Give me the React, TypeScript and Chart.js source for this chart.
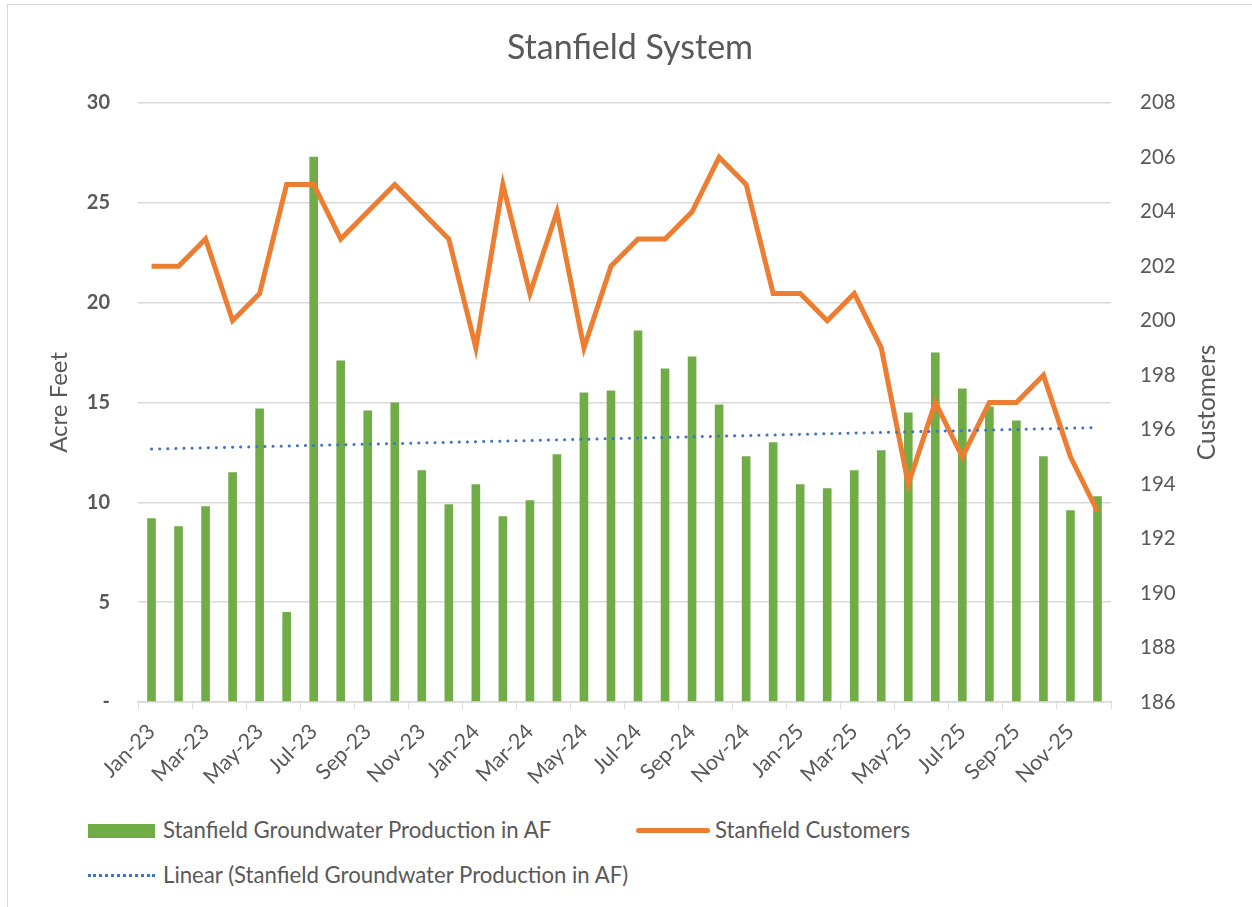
import React, { useEffect, useRef } from "react";
import { Chart, registerables } from "chart.js";

Chart.register(...registerables);

const months: string[] = [
  "Jan-23", "Feb-23", "Mar-23", "Apr-23", "May-23", "Jun-23", "Jul-23", "Aug-23", "Sep-23", "Oct-23", "Nov-23", "Dec-23",
  "Jan-24", "Feb-24", "Mar-24", "Apr-24", "May-24", "Jun-24", "Jul-24", "Aug-24", "Sep-24", "Oct-24", "Nov-24", "Dec-24",
  "Jan-25", "Feb-25", "Mar-25", "Apr-25", "May-25", "Jun-25", "Jul-25", "Aug-25", "Sep-25", "Oct-25", "Nov-25", "Dec-25",
];

const production: number[] = [
  9.2, 8.8, 9.8, 11.5, 14.7, 4.5, 27.3, 17.1, 14.6, 15.0, 11.6, 9.9,
  10.9, 9.3, 10.1, 12.4, 15.5, 15.6, 18.6, 16.7, 17.3, 14.9, 12.3, 13.0,
  10.9, 10.7, 11.6, 12.6, 14.5, 17.5, 15.7, 14.8, 14.1, 12.3, 9.6, 10.3,
];

const customers: number[] = [
  202, 202, 203, 200, 201, 205, 205, 203, 204, 205, 204, 203,
  199, 205, 201, 204, 199, 202, 203, 203, 204, 206, 205, 201,
  201, 200, 201, 199, 194, 197, 195, 197, 197, 198, 195, 193,
];

const leftTicks: number[] = [0, 5, 10, 15, 20, 25, 30];
const rightTicks: number[] = [186, 188, 190, 192, 194, 196, 198, 200, 202, 204, 206, 208];

const TITLE = "Stanfield System";
const BAR_LABEL = "Stanfield Groundwater Production in AF";
const LINE_LABEL = "Stanfield Customers";
const TREND_LABEL = "Linear (Stanfield Groundwater Production in AF)";
const LEFT_TITLE = "Acre Feet";
const RIGHT_TITLE = "Customers";

// Least-squares linear trend of the production series (as Excel's "Linear" trendline)
function linearTrend(values: number[]): number[] {
  const n = values.length;
  const xs = values.map((_, i) => i + 1);
  const mx = xs.reduce((a, b) => a + b, 0) / n;
  const my = values.reduce((a, b) => a + b, 0) / n;
  let sxy = 0;
  let sxx = 0;
  for (let i = 0; i < n; i++) {
    sxy += (xs[i] - mx) * (values[i] - my);
    sxx += (xs[i] - mx) * (xs[i] - mx);
  }
  const slope = sxy / sxx;
  const icpt = my - slope * mx;
  return xs.map((x) => icpt + slope * x);
}

const FONT = "Lato, 'Open Sans', sans-serif";
const TEXT = "#595959";
const GRID = "#d9d9d9";
const GREEN = "#70ad47";
const ORANGE = "#ed7d31";
const BLUE = "#4472c4";

export default function App() {
  const canvasRef = useRef<HTMLCanvasElement | null>(null);

  useEffect(() => {
    if (!canvasRef.current) return;
    const trend = linearTrend(production);

    const rightTitlePlugin = {
      id: "rightTitle",
      afterDraw(chart: any) {
        const s = chart.scales.y1;
        const area = chart.chartArea;
        const ctx = chart.ctx;
        ctx.save();
        ctx.fillStyle = TEXT;
        ctx.font = `24.5px ${FONT}`;
        ctx.textAlign = "center";
        ctx.textBaseline = "middle";
        ctx.translate(s.right - 45, (area.top + area.bottom) / 2);
        ctx.rotate(-Math.PI / 2);
        ctx.fillText(RIGHT_TITLE, 0, 0);
        ctx.restore();
      },
    };

    const chart = new Chart(canvasRef.current, {
      type: "bar",
      data: {
        labels: months,
        datasets: [
          {
            type: "line",
            label: TREND_LABEL,
            data: trend,
            yAxisID: "y",
            borderColor: BLUE,
            borderWidth: 3,
            borderDash: [0.1, 8],
            borderCapStyle: "round",
            pointRadius: 0,
            fill: false,
            order: 0,
          } as any,
          {
            type: "line",
            label: LINE_LABEL,
            data: customers,
            yAxisID: "y1",
            borderColor: ORANGE,
            borderWidth: 5,
            pointRadius: 0,
            tension: 0,
            fill: false,
            order: 1,
          } as any,
          {
            type: "bar",
            label: BAR_LABEL,
            data: production,
            yAxisID: "y",
            backgroundColor: GREEN,
            barPercentage: 0.32,
            categoryPercentage: 1,
            order: 2,
          } as any,
        ],
      },
      options: {
        responsive: false,
        animation: false,
        maintainAspectRatio: false,
        layout: { padding: 0 },
        plugins: {
          legend: { display: false },
          tooltip: { enabled: false },
          title: {
            display: true,
            text: TITLE,
            color: TEXT,
            font: { family: FONT, size: 34, weight: "normal" },
            padding: { top: 23, bottom: 34 },
          },
        },
        scales: {
          x: {
            offset: true,
            grid: {
              offset: true,
              drawOnChartArea: false,
              drawTicks: true,
              tickLength: 7,
              color: (c: any) => (c.index === undefined || c.index % 2 === 0 ? GRID : "rgba(0,0,0,0)"),
            },
            border: { display: true, color: GRID, width: 1.5 },
            ticks: {
              autoSkip: false,
              maxRotation: 45,
              minRotation: 45,
              padding: 10,
              color: TEXT,
              font: { family: FONT, size: 21.5 },
              callback: (_v: any, i: number) => (i % 2 === 0 ? months[i] : ""),
            },
            afterFit: (s: any) => {
              s.height = 103;
            },
          },
          y: {
            position: "left",
            min: 0,
            max: 30,
            afterBuildTicks: (s: any) => {
              s.ticks = leftTicks.map((v) => ({ value: v }));
            },
            grid: { color: GRID, lineWidth: 1.5, drawTicks: false },
            border: { display: false },
            ticks: {
              padding: 28,
              color: TEXT,
              font: { family: FONT, size: 20, weight: "bold" },
              callback: (v: any) => (v === 0 ? "-" : String(v)),
            },
            title: {
              display: true,
              text: LEFT_TITLE,
              color: TEXT,
              font: { family: FONT, size: 24 },
              padding: { top: 37, bottom: 0 },
            },
            afterFit: (s: any) => {
              s.width = 130;
            },
          },
          y1: {
            position: "right",
            min: 186,
            max: 208,
            afterBuildTicks: (s: any) => {
              s.ticks = rightTicks.map((v) => ({ value: v }));
            },
            grid: { display: false, drawTicks: false },
            border: { display: false },
            ticks: {
              padding: 29,
              color: TEXT,
              font: { family: FONT, size: 20.5 },
            },
            afterFit: (s: any) => {
              s.width = 141;
            },
          },
        },
      },
      plugins: [rightTitlePlugin],
    });
    return () => chart.destroy();
  }, []);

  const legendText: React.CSSProperties = {
    position: "absolute",
    fontFamily: FONT,
    fontSize: 22.2,
    color: TEXT,
    lineHeight: "26px",
    whiteSpace: "nowrap",
  };

  return (
    <div
      style={{
        position: "fixed",
        left: 7,
        top: 4,
        width: 1260,
        height: 920,
        border: `1px solid ${GRID}`,
        background: "#fff",
        boxSizing: "content-box",
      }}
    >
      <canvas ref={canvasRef} width={1244} height={800} style={{ position: "absolute", left: 0, top: 0, width: 1244, height: 800 }} />
      {/* legend (page coords minus 8,5) */}
      <div style={{ position: "absolute", left: 80, top: 819, width: 67, height: 14, background: GREEN }} />
      <div style={{ ...legendText, left: 155, top: 812 }}>{BAR_LABEL}</div>
      <div style={{ position: "absolute", left: 628, top: 823, width: 74, height: 5, borderRadius: 3, background: ORANGE }} />
      <div style={{ ...legendText, left: 707, top: 812 }}>{LINE_LABEL}</div>
      <div style={{ position: "absolute", left: 80, top: 869, width: 67, height: 0, borderTop: `3px dotted ${BLUE}` }} />
      <div style={{ ...legendText, left: 155, top: 857 }}>{TREND_LABEL}</div>
    </div>
  );
}
